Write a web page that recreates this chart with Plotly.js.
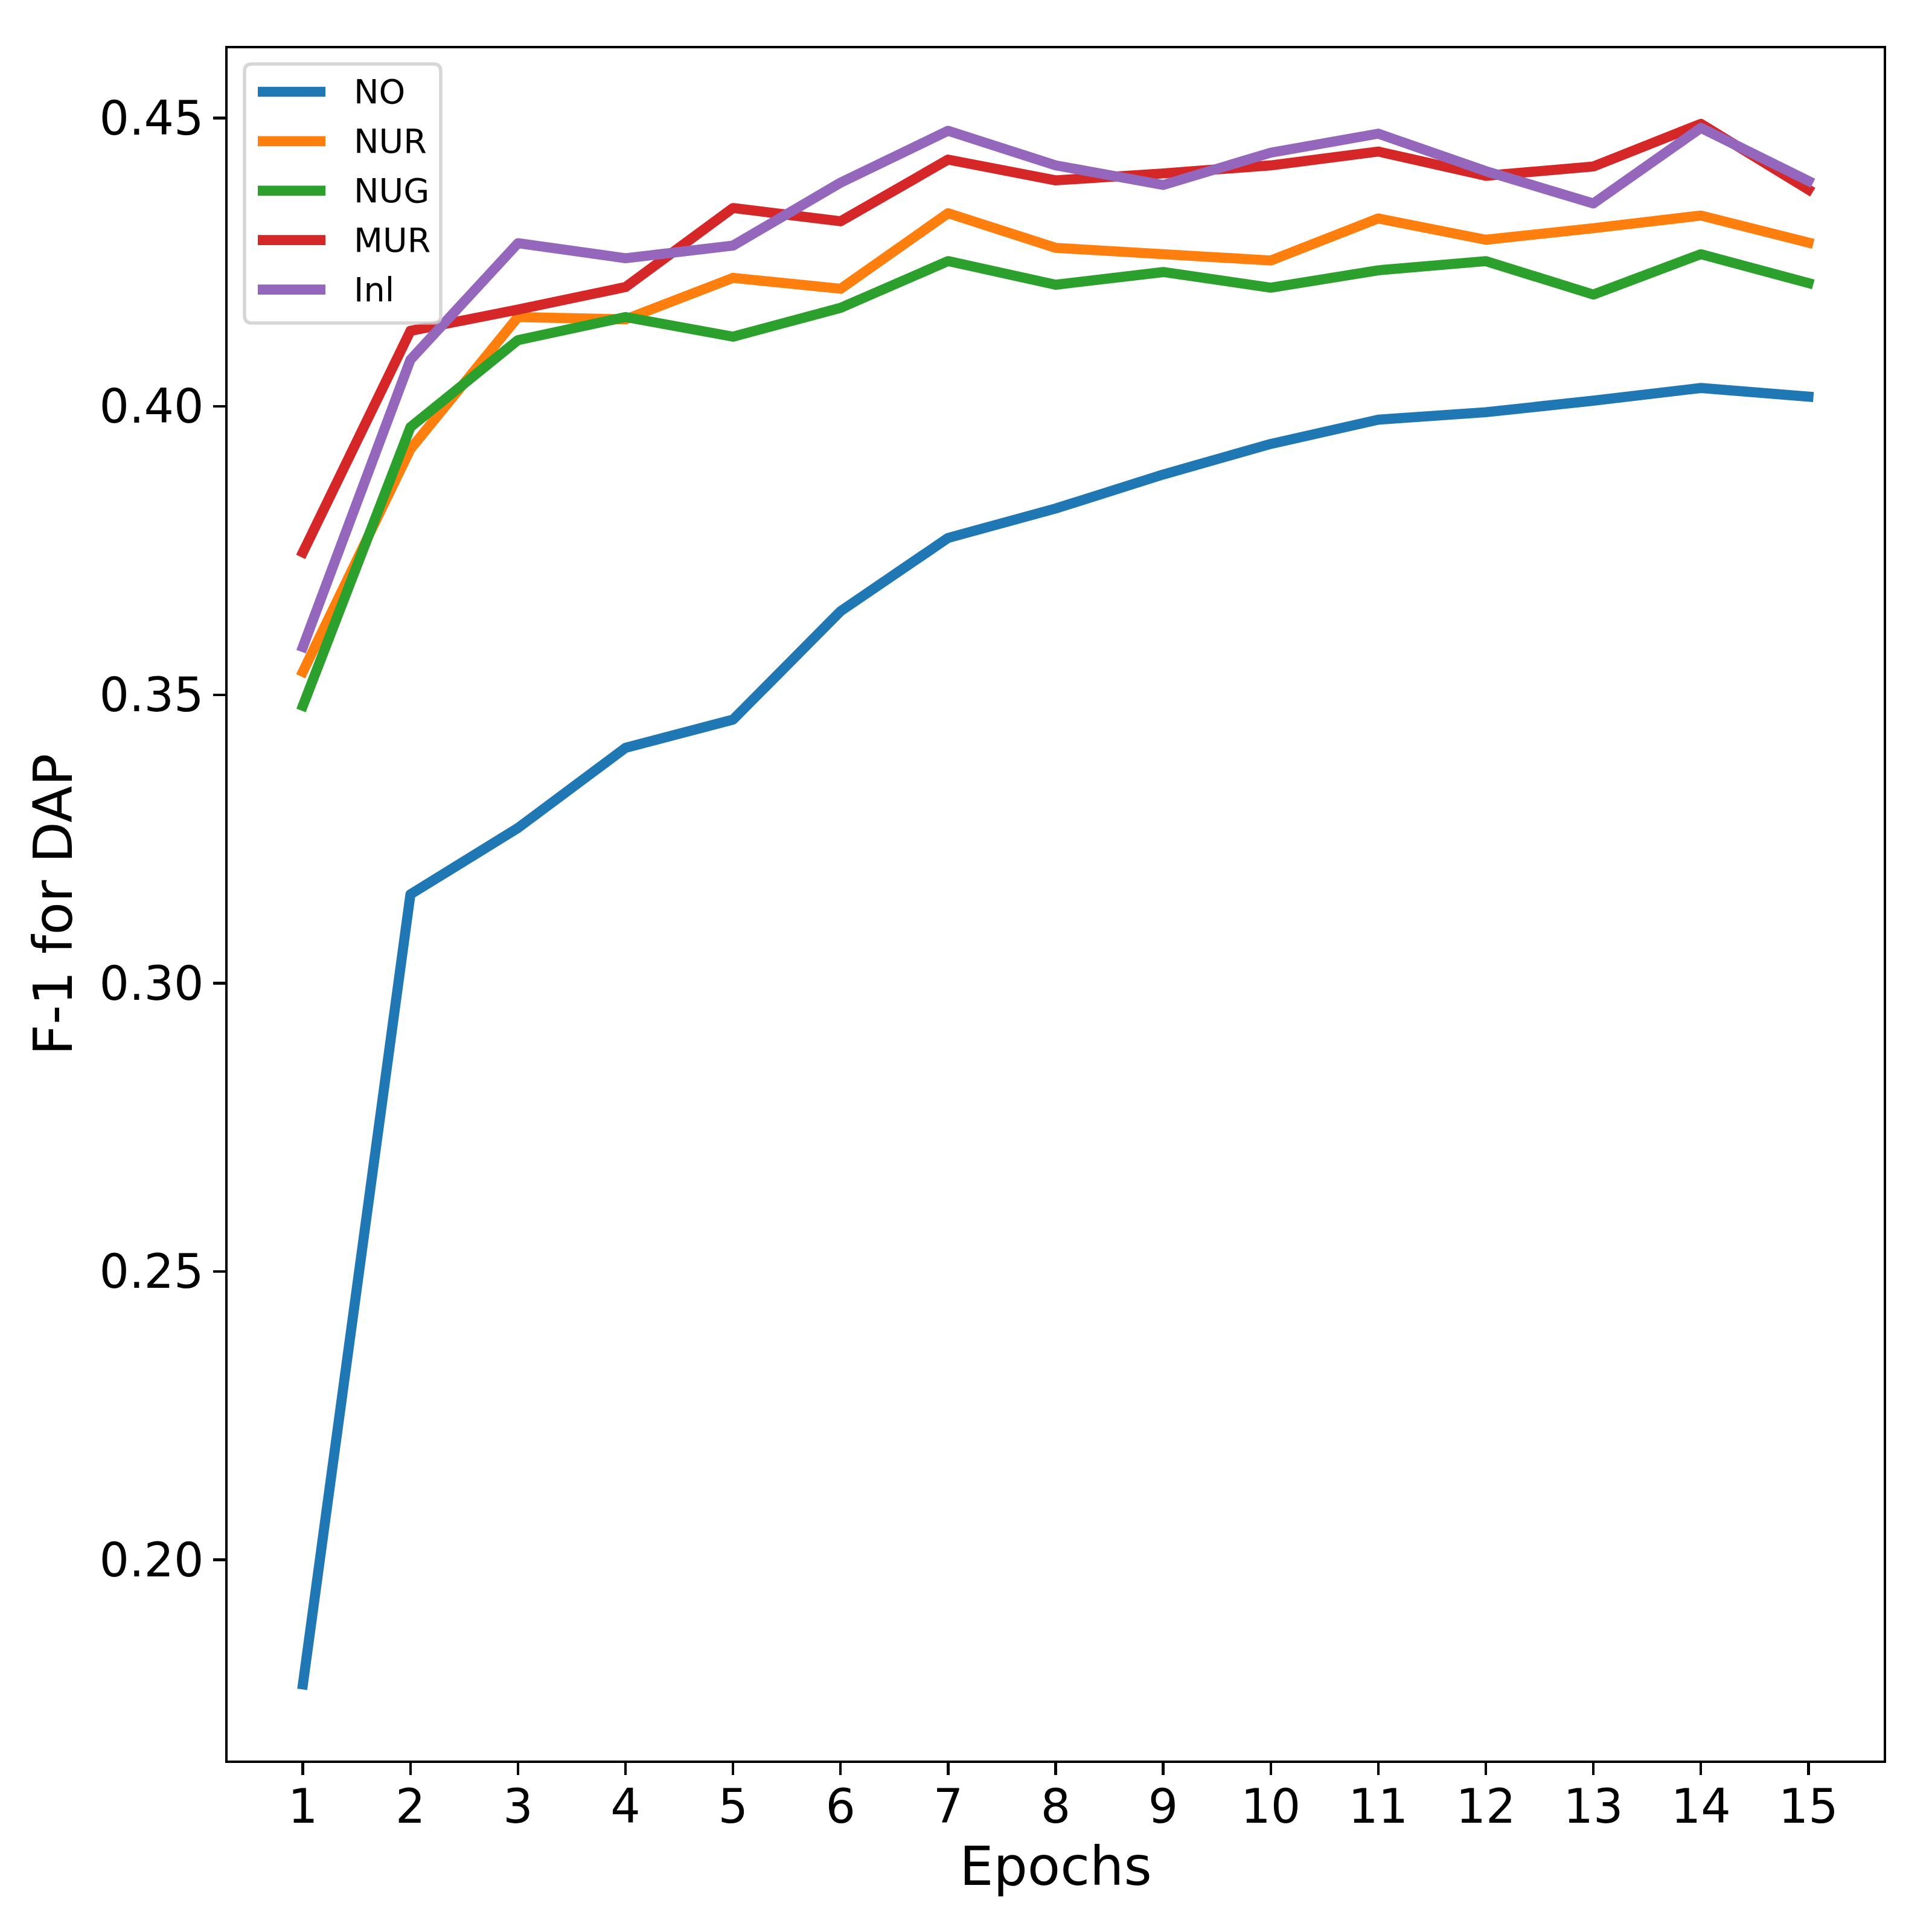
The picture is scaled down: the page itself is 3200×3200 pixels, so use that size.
<!DOCTYPE html>
<html><head><meta charset="utf-8">
<script src="https://cdn.plot.ly/plotly-3.0.1.min.js"></script>
<style>
body{margin:0;background:#fff}
#chart{width:3200px;height:3200px}
#chart .scatterlayer path.js-line{stroke-linecap:square !important;stroke-linejoin:round !important}
</style>
</head><body><div id="chart"></div>
<script>
const epochs = [1,2,3,4,5,6,7,8,9,10,11,12,13,14,15];
const seriesNames = ['NO','NUR','NUG','MUR','Inl'];
const NO  = [0.1784,0.3154,0.3269,0.3408,0.3457,0.3645,0.3772,0.3823,0.3882,0.3935,0.3977,0.3990,0.4010,0.4032,0.4017];
const NUR = [0.3540,0.3926,0.4155,0.4151,0.4223,0.4204,0.4335,0.4275,0.4264,0.4253,0.4326,0.4289,0.4309,0.4331,0.4284];
const NUG = [0.3481,0.3964,0.4115,0.4155,0.4121,0.4171,0.4252,0.4211,0.4233,0.4206,0.4236,0.4252,0.4194,0.4264,0.4214];
const MUR = [0.3747,0.4131,0.4168,0.4207,0.4344,0.4321,0.4428,0.4392,0.4404,0.4418,0.4442,0.4400,0.4416,0.4490,0.4376];
const Inl = [0.3583,0.4081,0.4283,0.4257,0.4279,0.4388,0.4478,0.4418,0.4384,0.4440,0.4473,0.4408,0.4352,0.4483,0.4391];
const yTickVals = [0.20,0.25,0.30,0.35,0.40,0.45];
const yTickText = ['0.20','0.25','0.30','0.35','0.40','0.45'];
const xLabel = 'Epochs';
const yLabel = 'F-1 for DAP';

const seriesValues = [NO, NUR, NUG, MUR, Inl];
const colors = ['#1f77b4','#ff7f0e','#2ca02c','#d62728','#9467bd'];
const LW = 16.67;
const FONT = 'DejaVu Sans, Verdana, sans-serif';

const W = 3200, H = 3200;
const M = {l: 377, r: 80, t: 80, b: 284};
const PW = W - M.l - M.r, PH = H - M.t - M.b;
const px2x = p => (p - M.l) / PW;
const px2y = p => (H - M.b - p) / PH;

const traces = seriesNames.map((name, i) => ({
  x: epochs, y: seriesValues[i], name: name, type: 'scatter', mode: 'lines',
  line: {color: colors[i], width: LW}, showlegend: false, hoverinfo: 'skip'
}));

// custom legend (matplotlib-like) built from series names/colors
const shapes = [];
const annotations = [];
const bx0 = 405, bx1 = 730, by0 = 106, by1 = 535, rr = 12;
const X = px2x, Y = px2y;
const path = `M${X(bx0+rr)},${Y(by0)} L${X(bx1-rr)},${Y(by0)} Q${X(bx1)},${Y(by0)} ${X(bx1)},${Y(by0+rr)} ` +
  `L${X(bx1)},${Y(by1-rr)} Q${X(bx1)},${Y(by1)} ${X(bx1-rr)},${Y(by1)} L${X(bx0+rr)},${Y(by1)} ` +
  `Q${X(bx0)},${Y(by1)} ${X(bx0)},${Y(by1-rr)} L${X(bx0)},${Y(by0+rr)} Q${X(bx0)},${Y(by0)} ${X(bx0+rr)},${Y(by0)} Z`;
shapes.push({type: 'path', xref: 'paper', yref: 'paper', path: path,
  fillcolor: 'rgba(255,255,255,0.8)', line: {color: 'rgba(204,204,204,0.8)', width: 5.5}, layer: 'above'});
const rowY0 = 152, rowStep = 81.9;
seriesNames.forEach((name, i) => {
  const cy = rowY0 + i * rowStep;
  shapes.push({type: 'line', xref: 'paper', yref: 'paper', x0: X(427), x1: X(539), y0: Y(cy), y1: Y(cy),
    line: {color: colors[i], width: LW}, layer: 'above'});
  annotations.push({xref: 'paper', yref: 'paper', x: X(584), y: Y(cy), xanchor: 'left', yanchor: 'middle',
    text: name, showarrow: false, font: {family: FONT, size: 55.6, color: '#000'}});
});

const layout = {
  width: W, height: H,
  margin: M,
  paper_bgcolor: '#fff', plot_bgcolor: '#fff',
  font: {family: FONT, color: '#000'},
  xaxis: {
    range: [0.3, 15.7], tickmode: 'array', tickvals: epochs, ticktext: epochs.map(String),
    showgrid: false, zeroline: false, showline: true, mirror: true, linecolor: '#000', linewidth: 4.4,
    ticks: 'outside', ticklen: 19.4, tickwidth: 4.4, tickcolor: '#000',
    ticklabelstandoff: -14,
    tickfont: {family: FONT, size: 77.8, color: '#000'},
    title: {text: xLabel, font: {family: FONT, size: 88.9, color: '#000'}, standoff: 25}
  },
  yaxis: {
    range: [0.1652, 0.4621], tickmode: 'array', tickvals: yTickVals, ticktext: yTickText,
    showgrid: false, zeroline: false, showline: true, mirror: true, linecolor: '#000', linewidth: 4.4,
    ticks: 'outside', ticklen: 19.4, tickwidth: 4.4, tickcolor: '#000',
    tickfont: {family: FONT, size: 77.8, color: '#000'},
    title: {text: yLabel, font: {family: FONT, size: 88.9, color: '#000'}, standoff: 16}
  },
  shapes: shapes,
  annotations: annotations
};

Plotly.newPlot('chart', traces, layout, {displayModeBar: false, staticPlot: true});
</script></body></html>
